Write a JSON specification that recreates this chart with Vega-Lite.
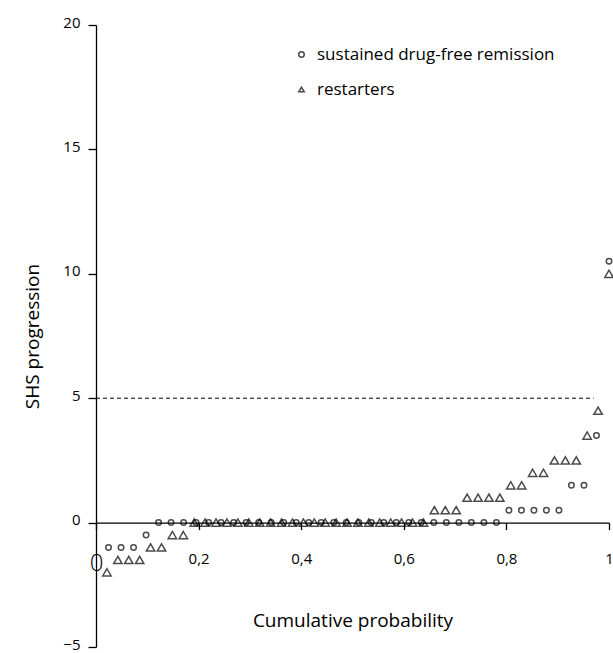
{
  "$schema": "https://vega.github.io/schema/vega-lite/v6.json",
  "width": 513,
  "height": 622,
  "autosize": {"type": "none"},
  "padding": {"left": 96, "top": 25, "right": 4, "bottom": 6},
  "config": {"view": {"stroke": null}, "font": "Open Sans"},
  "datasets": {
    "ref": [{"p": 0, "p2": 0.97, "shs": 5}],
    "points": [
      {"g": "sustained drug-free remission", "p": 0.0244, "shs": -1},
      {"g": "sustained drug-free remission", "p": 0.0488, "shs": -1},
      {"g": "sustained drug-free remission", "p": 0.0732, "shs": -1},
      {"g": "sustained drug-free remission", "p": 0.0976, "shs": -0.5},
      {"g": "sustained drug-free remission", "p": 0.122, "shs": 0},
      {"g": "sustained drug-free remission", "p": 0.1463, "shs": 0},
      {"g": "sustained drug-free remission", "p": 0.1707, "shs": 0},
      {"g": "sustained drug-free remission", "p": 0.1951, "shs": 0},
      {"g": "sustained drug-free remission", "p": 0.2195, "shs": 0},
      {"g": "sustained drug-free remission", "p": 0.2439, "shs": 0},
      {"g": "sustained drug-free remission", "p": 0.2683, "shs": 0},
      {"g": "sustained drug-free remission", "p": 0.2927, "shs": 0},
      {"g": "sustained drug-free remission", "p": 0.3171, "shs": 0},
      {"g": "sustained drug-free remission", "p": 0.3415, "shs": 0},
      {"g": "sustained drug-free remission", "p": 0.3659, "shs": 0},
      {"g": "sustained drug-free remission", "p": 0.3902, "shs": 0},
      {"g": "sustained drug-free remission", "p": 0.4146, "shs": 0},
      {"g": "sustained drug-free remission", "p": 0.439, "shs": 0},
      {"g": "sustained drug-free remission", "p": 0.4634, "shs": 0},
      {"g": "sustained drug-free remission", "p": 0.4878, "shs": 0},
      {"g": "sustained drug-free remission", "p": 0.5122, "shs": 0},
      {"g": "sustained drug-free remission", "p": 0.5366, "shs": 0},
      {"g": "sustained drug-free remission", "p": 0.561, "shs": 0},
      {"g": "sustained drug-free remission", "p": 0.5854, "shs": 0},
      {"g": "sustained drug-free remission", "p": 0.6098, "shs": 0},
      {"g": "sustained drug-free remission", "p": 0.6341, "shs": 0},
      {"g": "sustained drug-free remission", "p": 0.6585, "shs": 0},
      {"g": "sustained drug-free remission", "p": 0.6829, "shs": 0},
      {"g": "sustained drug-free remission", "p": 0.7073, "shs": 0},
      {"g": "sustained drug-free remission", "p": 0.7317, "shs": 0},
      {"g": "sustained drug-free remission", "p": 0.7561, "shs": 0},
      {"g": "sustained drug-free remission", "p": 0.7805, "shs": 0},
      {"g": "sustained drug-free remission", "p": 0.8049, "shs": 0.5},
      {"g": "sustained drug-free remission", "p": 0.8293, "shs": 0.5},
      {"g": "sustained drug-free remission", "p": 0.8537, "shs": 0.5},
      {"g": "sustained drug-free remission", "p": 0.878, "shs": 0.5},
      {"g": "sustained drug-free remission", "p": 0.9024, "shs": 0.5},
      {"g": "sustained drug-free remission", "p": 0.9268, "shs": 1.5},
      {"g": "sustained drug-free remission", "p": 0.9512, "shs": 1.5},
      {"g": "sustained drug-free remission", "p": 0.9756, "shs": 3.5},
      {"g": "sustained drug-free remission", "p": 1, "shs": 10.5},
      {"g": "restarters", "p": 0.0213, "shs": -2},
      {"g": "restarters", "p": 0.0426, "shs": -1.5},
      {"g": "restarters", "p": 0.0638, "shs": -1.5},
      {"g": "restarters", "p": 0.0851, "shs": -1.5},
      {"g": "restarters", "p": 0.1064, "shs": -1},
      {"g": "restarters", "p": 0.1277, "shs": -1},
      {"g": "restarters", "p": 0.1489, "shs": -0.5},
      {"g": "restarters", "p": 0.1702, "shs": -0.5},
      {"g": "restarters", "p": 0.1915, "shs": 0},
      {"g": "restarters", "p": 0.2128, "shs": 0},
      {"g": "restarters", "p": 0.234, "shs": 0},
      {"g": "restarters", "p": 0.2553, "shs": 0},
      {"g": "restarters", "p": 0.2766, "shs": 0},
      {"g": "restarters", "p": 0.2979, "shs": 0},
      {"g": "restarters", "p": 0.3191, "shs": 0},
      {"g": "restarters", "p": 0.3404, "shs": 0},
      {"g": "restarters", "p": 0.3617, "shs": 0},
      {"g": "restarters", "p": 0.383, "shs": 0},
      {"g": "restarters", "p": 0.4043, "shs": 0},
      {"g": "restarters", "p": 0.4255, "shs": 0},
      {"g": "restarters", "p": 0.4468, "shs": 0},
      {"g": "restarters", "p": 0.4681, "shs": 0},
      {"g": "restarters", "p": 0.4894, "shs": 0},
      {"g": "restarters", "p": 0.5106, "shs": 0},
      {"g": "restarters", "p": 0.5319, "shs": 0},
      {"g": "restarters", "p": 0.5532, "shs": 0},
      {"g": "restarters", "p": 0.5745, "shs": 0},
      {"g": "restarters", "p": 0.5957, "shs": 0},
      {"g": "restarters", "p": 0.617, "shs": 0},
      {"g": "restarters", "p": 0.6383, "shs": 0},
      {"g": "restarters", "p": 0.6596, "shs": 0.5},
      {"g": "restarters", "p": 0.6809, "shs": 0.5},
      {"g": "restarters", "p": 0.7021, "shs": 0.5},
      {"g": "restarters", "p": 0.7234, "shs": 1},
      {"g": "restarters", "p": 0.7447, "shs": 1},
      {"g": "restarters", "p": 0.766, "shs": 1},
      {"g": "restarters", "p": 0.7872, "shs": 1},
      {"g": "restarters", "p": 0.8085, "shs": 1.5},
      {"g": "restarters", "p": 0.8298, "shs": 1.5},
      {"g": "restarters", "p": 0.8511, "shs": 2},
      {"g": "restarters", "p": 0.8723, "shs": 2},
      {"g": "restarters", "p": 0.8936, "shs": 2.5},
      {"g": "restarters", "p": 0.9149, "shs": 2.5},
      {"g": "restarters", "p": 0.9362, "shs": 2.5},
      {"g": "restarters", "p": 0.9574, "shs": 3.5},
      {"g": "restarters", "p": 0.9787, "shs": 4.5},
      {"g": "restarters", "p": 1, "shs": 10}
    ]
  },
  "encoding": {
    "x": {
      "field": "p",
      "type": "quantitative",
      "scale": {"domain": [0, 1], "nice": false, "zero": false},
      "axis": {
        "title": "Cumulative probability",
        "values": [0, 0.2, 0.4, 0.6, 0.8, 1],
        "format": "~g",
        "labelExpr": "replace(datum.label, '.', ',')",
        "offset": -124.4,
        "grid": false,
        "domainColor": "black",
        "domainWidth": 1.3,
        "tickColor": "black",
        "tickWidth": 1.3,
        "tickSize": 7,
        "labelPadding": 22,
        "labelColor": "black",
        "labelFontSize": {"condition": {"test": "datum.value == 0", "value": 24}, "value": 15},
        "labelFontWeight": {"condition": {"test": "datum.value == 0", "value": 300}, "value": 400},
        "labelFlush": false,
        "titleFontSize": 19,
        "titleFontWeight": "normal",
        "titleColor": "black",
        "titlePadding": 36
      }
    },
    "y": {
      "field": "shs",
      "type": "quantitative",
      "scale": {"domain": [-5, 20], "nice": false, "zero": false},
      "axis": {
        "title": "SHS progression",
        "values": [-5, 0, 5, 10, 15, 20],
        "grid": false,
        "domainColor": "black",
        "domainWidth": 1.3,
        "tickColor": "black",
        "tickWidth": 1.3,
        "tickSize": 8,
        "labelPadding": 8,
        "labelColor": "black",
        "labelFontSize": 15,
        "labelBaseline": "bottom",
        "labelOffset": 5,
        "labelFlush": false,
        "titleFontSize": 19,
        "titleFontWeight": "normal",
        "titleColor": "black",
        "titlePadding": 20
      }
    }
  },
  "layer": [
    {
      "data": {"name": "ref"},
      "mark": {"type": "rule", "color": "black", "strokeWidth": 1, "strokeDash": [4, 3]},
      "encoding": {"x2": {"field": "p2"}}
    },
    {
      "data": {"name": "points"},
      "mark": {"type": "point", "filled": false, "color": "black", "strokeWidth": 1.5},
      "encoding": {
        "shape": {
          "field": "g",
          "type": "nominal",
          "scale": {"domain": ["sustained drug-free remission", "restarters"], "range": ["circle", "triangle-up"]},
          "legend": {
            "orient": "none",
            "legendX": 197,
            "legendY": 21,
            "title": null,
            "padding": 0,
            "labelFontSize": 17,
            "labelColor": "black",
            "labelLimit": 400,
            "labelOffset": 7,
            "symbolSize": 30,
            "symbolStrokeWidth": 1.5,
            "symbolStrokeColor": "black",
            "rowPadding": 17
          }
        },
        "size": {"condition": {"test": "datum.g == 'restarters'", "value": 70}, "value": 30}
      }
    }
  ]
}
